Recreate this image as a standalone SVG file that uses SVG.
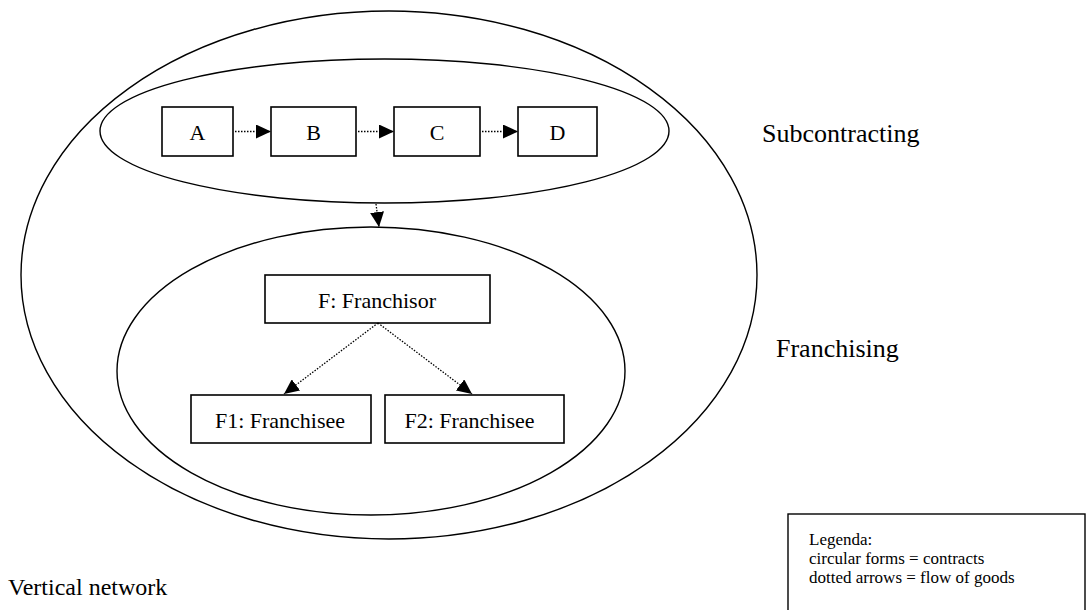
<svg xmlns="http://www.w3.org/2000/svg" width="1087" height="610" viewBox="0 0 1087 610">
<style>
.contract{fill:none;stroke:#000;stroke-width:1.4}
.box{fill:#fff;stroke:#000;stroke-width:1.6}
.t{font-family:"Liberation Serif","Times New Roman",serif;fill:#000}
.bt{font-size:22px;text-anchor:middle}
.lbl{font-size:26px}
.leg{font-size:17px}
.flow{fill:none;stroke:#000;stroke-width:1.3;stroke-dasharray:1.5 1.5;marker-end:url(#ah)}
</style>
<defs>
<marker id="ah" markerUnits="userSpaceOnUse" markerWidth="16" markerHeight="14" refX="15" refY="7" orient="auto" viewBox="0 0 16 14">
<path d="M0,0 L15,7 L0,14 z" fill="#000"/>
</marker>
</defs>
<rect width="1087" height="610" fill="#fff"/>
<g id="vertical-network">
<ellipse class="contract" cx="389" cy="275" rx="368" ry="264"/>
<text class="t" x="8" y="595" font-size="24">Vertical network</text>
</g>
<g id="subcontracting">
<ellipse class="contract" cx="384.5" cy="131" rx="284.5" ry="72"/>
<text class="t lbl" x="762" y="142">Subcontracting</text>
</g>
<g id="franchising">
<ellipse class="contract" cx="371" cy="371" rx="254" ry="144"/>
<text class="t lbl" x="776" y="357">Franchising</text>
</g>
<g id="nodeA"><rect class="box" x="162" y="107" width="71" height="49"/><text class="t bt" x="197.5" y="140">A</text></g>
<g id="nodeB"><rect class="box" x="271" y="107" width="85" height="49"/><text class="t bt" x="313.5" y="140">B</text></g>
<g id="nodeC"><rect class="box" x="394" y="107" width="86" height="49"/><text class="t bt" x="437" y="140">C</text></g>
<g id="nodeD"><rect class="box" x="518" y="107" width="79" height="49"/><text class="t bt" x="557.5" y="140">D</text></g>
<g id="nodeF"><rect class="box" x="265" y="275" width="225" height="48"/><text class="t bt" x="377" y="308">F: Franchisor</text></g>
<g id="nodeF1"><rect class="box" x="191" y="395" width="180" height="48"/><text class="t bt" x="280" y="428">F1: Franchisee</text></g>
<g id="nodeF2"><rect class="box" x="385" y="395" width="179" height="48"/><text class="t bt" x="469.5" y="428">F2: Franchisee</text></g>
<g id="connectors">
<line class="flow" x1="235" y1="131.5" x2="271" y2="131.5"/>
<line class="flow" x1="358" y1="131.5" x2="394" y2="131.5"/>
<line class="flow" x1="482" y1="131.5" x2="518" y2="131.5"/>
<line class="flow" x1="376" y1="204" x2="379" y2="227"/>
<line class="flow" x1="378" y1="323" x2="284" y2="394"/>
<line class="flow" x1="378" y1="323" x2="472" y2="394"/>
</g>
<g id="legend">
<rect x="788" y="514" width="297" height="120" fill="#fff" stroke="#000" stroke-width="1.4"/>
<text class="t leg" x="809" y="545">Legenda:</text>
<text class="t leg" x="809" y="564">circular forms = contracts</text>
<text class="t leg" x="809" y="583">dotted arrows = flow of goods</text>
</g>
</svg>
